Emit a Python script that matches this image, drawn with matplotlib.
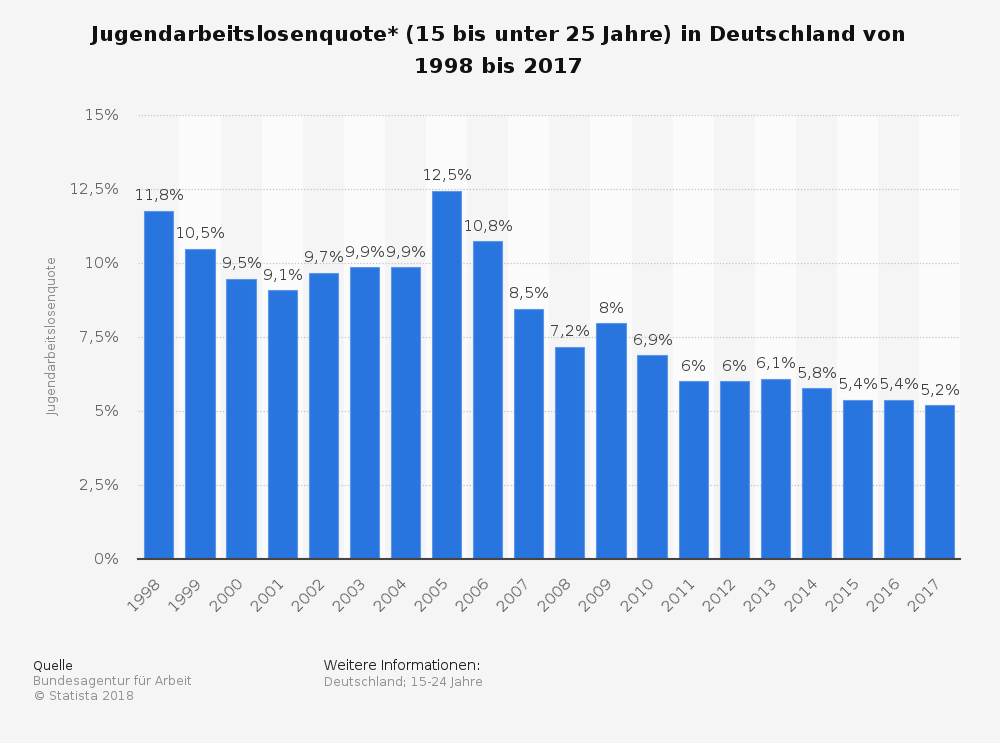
import matplotlib
matplotlib.use("Agg")
import matplotlib.pyplot as plt
from matplotlib.transforms import ScaledTranslation
import numpy as np

# full hinting gives the wider, pixel-snapped letter spacing of the original
plt.rcParams['text.hinting'] = 'native'
plt.rcParams['text.hinting_factor'] = 1

years = ['1998', '1999', '2000', '2001', '2002', '2003', '2004', '2005', '2006', '2007',
         '2008', '2009', '2010', '2011', '2012', '2013', '2014', '2015', '2016', '2017']
values = [11.77, 10.47, 9.47, 9.07, 9.66, 9.85, 9.85, 12.43, 10.73, 8.44,
          7.16, 7.96, 6.87, 5.99, 5.99, 6.07, 5.76, 5.36, 5.36, 5.18]
value_labels = ['11,8%', '10,5%', '9,5%', '9,1%', '9,7%', '9,9%', '9,9%', '12,5%', '10,8%', '8,5%',
                '7,2%', '8%', '6,9%', '6%', '6%', '6,1%', '5,8%', '5,4%', '5,4%', '5,2%']
y_ticks = [0, 2.5, 5, 7.5, 10, 12.5, 15]
y_tick_labels = ['0%', '2,5%', '5%', '7,5%', '10%', '12,5%', '15%']

W, H = 1000, 743
bg = '#f5f5f5'
blue = '#2975e0'

fig = plt.figure(figsize=(W / 100, H / 100), dpi=100, facecolor=bg)
ax = fig.add_axes([138.3 / W, 1 - 558.5 / H, 822 / W, 443.5 / H], facecolor=bg)

x = np.arange(len(years))
ax.set_xlim(-0.5, len(years) - 0.5)
ax.set_ylim(0, 15)

# alternating column bands
for i in x[1::2]:
    ax.axvspan(i - 0.5, i + 0.5, color='#fbfbfb', lw=0, zorder=0)

ax.yaxis.grid(True, color='#c4c4c4', linestyle=(0, (1, 1.5)), linewidth=0.9, zorder=1)
ax.set_axisbelow(True)
ax.xaxis.grid(False)

ax.bar(x, values, width=0.71, color=blue, edgecolor='#5e97e8', linewidth=0.8, zorder=2)

for i, v, label in zip(x, values, value_labels):
    ax.annotate(label, (i, v), xytext=(0, 5.5), textcoords='offset points', ha='center', va='bottom',
                fontsize=10.8, color='#404040', zorder=3)

for side in ['top', 'right', 'left']:
    ax.spines[side].set_visible(False)
ax.spines['bottom'].set_color('#444444')
ax.spines['bottom'].set_linewidth(1.5)
ax.spines['bottom'].set_zorder(4)

ax.set_yticks(y_ticks)
ax.set_yticklabels(y_tick_labels, fontsize=10.8, color='#666666')
ax.set_xticks(x)
ax.set_xticklabels(years, fontsize=10.8, color='#666666', rotation=45, ha='right', rotation_mode='anchor')
ax.tick_params(axis='y', length=0, pad=14.7)
ax.tick_params(axis='x', length=0, pad=12.5)

# year labels sit a bit left of the bar centre
shift = ScaledTranslation(-5 / 100, 0, fig.dpi_scale_trans)
for lab in ax.get_xticklabels():
    lab.set_transform(lab.get_transform() + shift)

fig.text(53 / W, 1 - 336 / H, 'Jugendarbeitslosenquote', rotation=90, fontsize=9, color='#8a8a8a',
         ha='center', va='center')

fig.text(499 / W, 1 - 35 / H, 'Jugendarbeitslosenquote* (15 bis unter 25 Jahre) in Deutschland von',
         fontsize=15.4, fontweight='bold', color='#111111', ha='center', va='center')
fig.text(499 / W, 1 - 67 / H, '1998 bis 2017',
         fontsize=15.4, fontweight='bold', color='#111111', ha='center', va='center')

fig.text(33 / W, 1 - 666 / H, 'Quelle', fontsize=9, color='#222222', va='center')
fig.text(33 / W, 1 - 682 / H, 'Bundesagentur für Arbeit', fontsize=8.5, color='#929292', va='center')
fig.text(33 / W, 1 - 697 / H, '© Statista 2018', fontsize=8.5, color='#929292', va='center')
fig.text(324 / W, 1 - 666 / H, 'Weitere Informationen:', fontsize=10.2, color='#222222', va='center')
fig.text(324 / W, 1 - 682 / H, 'Deutschland; 15-24 Jahre', fontsize=8.5, color='#929292', va='center')

fig.savefig('out.png', dpi=100, facecolor=bg)
